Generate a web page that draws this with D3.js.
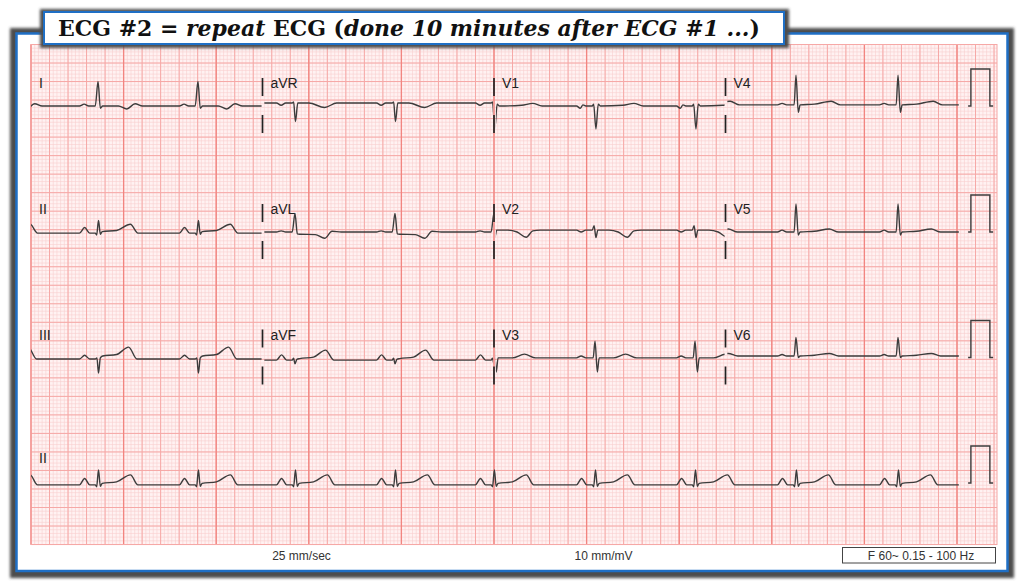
<!DOCTYPE html>
<html>
<head>
<meta charset="utf-8">
<script src="https://cdn.jsdelivr.net/npm/d3@7"></script>
<style>
  body { margin: 0; background: #fff; }
  svg { display: block; }
</style>
</head>
<body>
<script>
// Page size
var svgWidth = 1024;
var svgHeight = 583;

// R-peak times in seconds (read from the rhythm strip)
var beatTimes = [-0.36, 0.724, 1.803, 2.851, 3.931, 4.999, 6.091, 7.171, 8.261, 9.363];

// 12-lead layout, 3 rows x 4 columns, 2.5 s per column, then a rhythm strip
var leadRows = [
  ["I", "aVR", "V1", "V4"],
  ["II", "aVL", "V2", "V5"],
  ["III", "aVF", "V3", "V6"]
];
var rhythmLead = "II";

// beat shapes per lead: [seconds from R peak, mV]
var shapeI   = [[-0.2,0],[-0.15,0.05],[-0.1,0],[-0.03,0],[0,0.66],[0.025,-0.06],[0.05,0],[0.22,0],[0.31,-0.08],[0.4,0.06],[0.48,0]];
var shapeII  = [[-0.2,0],[-0.145,0.15],[-0.09,0],[-0.03,0],[-0.015,-0.05],[0.005,0.34],[0.025,-0.03],[0.045,0.04],[0.2,0.07],[0.35,0.24],[0.43,0]];
var shapeIII = [[-0.2,0],[-0.145,0.1],[-0.09,0],[-0.03,0],[-0.012,0.03],[0.005,-0.38],[0.025,0.03],[0.05,0.08],[0.2,0.12],[0.33,0.32],[0.42,0]];
var shapeAVR = [[-0.2,0],[-0.15,-0.06],[-0.1,0],[-0.03,0],[-0.015,0.03],[0.005,-0.5],[0.03,0],[0.15,0],[0.32,-0.12],[0.45,0]];
var shapeAVL = [[-0.2,0],[-0.15,0.03],[-0.1,0],[-0.03,0],[0,0.5],[0.025,-0.05],[0.05,-0.06],[0.22,-0.07],[0.32,-0.17],[0.4,0.02],[0.5,0]];
var shapeAVF = [[-0.2,0],[-0.145,0.14],[-0.09,0],[-0.03,0],[-0.015,0.05],[0,-0.1],[0.02,0.02],[0.05,0.04],[0.2,0.08],[0.33,0.27],[0.42,0]];
var shapeV1  = [[-0.2,0],[-0.16,-0.06],[-0.13,0.03],[-0.1,0],[-0.03,0],[-0.015,0.05],[0.01,-0.62],[0.035,0.05],[0.06,0],[0.3,0.02],[0.42,0.07],[0.52,0]];
var shapeV2  = [[-0.2,0],[-0.15,-0.05],[-0.1,0],[-0.03,0],[-0.01,0.12],[0.01,-0.2],[0.03,0],[0.15,0],[0.25,-0.05],[0.35,-0.19],[0.42,-0.02],[0.5,0]];
var shapeV3  = [[-0.2,0],[-0.15,0.05],[-0.1,0],[-0.02,0],[0,0.45],[0.025,-0.38],[0.045,0],[0.2,0],[0.33,0.1],[0.45,0]];
var shapeV4  = [[-0.2,0],[-0.15,0.04],[-0.1,0],[-0.02,0],[0,0.8],[0.025,-0.2],[0.045,0],[0.2,0.02],[0.38,0.1],[0.48,0]];
var shapeV5  = [[-0.2,0],[-0.15,0.05],[-0.1,0],[-0.02,0],[0,0.76],[0.025,-0.08],[0.045,0],[0.2,0.02],[0.36,0.08],[0.46,0]];
var shapeV6  = [[-0.2,0],[-0.15,0.04],[-0.1,0],[-0.02,0],[0,0.5],[0.025,-0.04],[0.045,0],[0.2,0.02],[0.36,0.07],[0.46,0]];
var shapeRhythm = [[-0.2,0],[-0.145,0.17],[-0.09,0],[-0.03,0],[-0.015,-0.05],[0.005,0.4],[0.025,-0.04],[0.045,0.04],[0.2,0.08],[0.35,0.27],[0.43,0]];

// baseline offset of each lead from its row centre (mV)
var baseOffsets = {I: 0, aVR: 0.08, V1: 0, V4: 0.03, II: -0.03, aVL: 0, V2: 0.05, V5: 0,
                   III: -0.04, aVF: -0.07, V3: -0.01, V6: 0.04, rhythm: -0.05};

// calibration pulse: [seconds, mV]
var calPulse = [[10.12,0],[10.15,0],[10.15,1],[10.355,1],[10.355,0],[10.39,0]];

// footer texts
var footerTexts = ["25 mm/sec", "10 mm/mV"];
var filterText = "F 60~ 0.15 - 100 Hz";

var shapes = {I: shapeI, II: shapeII, III: shapeIII, aVR: shapeAVR, aVL: shapeAVL, aVF: shapeAVF,
              V1: shapeV1, V2: shapeV2, V3: shapeV3, V4: shapeV4, V5: shapeV5, V6: shapeV6};

// Grid geometry: 1 mm = 3.704 px, 25 mm/s, 10 mm/mV
var gridLeft = 31, gridRight = 997, gridTop = 44.5, gridBottom = 544.5;
var pxPerMm = 3.704;

var xMm = d3.scaleLinear().domain([0, 1]).range([gridLeft, gridLeft + pxPerMm]);
var yMm = d3.scaleLinear().domain([0, 1]).range([gridTop, gridTop + pxPerMm]);
var xTime = d3.scaleLinear().domain([0, 1]).range([gridLeft, gridLeft + 25 * pxPerMm]);

// row centres (baseline of each row)
var rowCenters = [106, 232, 357.5, 483];
function yScaleFor(row) {
  return d3.scaleLinear().domain([0, 1]).range([rowCenters[row], rowCenters[row] - 10 * pxPerMm]);
}

var svg = d3.select("body")
  .append("svg")
  .attr("width", svgWidth)
  .attr("height", svgHeight);

var defs = svg.append("defs");
defs.append("filter").attr("id", "blur")
  .attr("x", "-10%").attr("y", "-10%").attr("width", "120%").attr("height", "120%")
  .append("feGaussianBlur").attr("stdDeviation", 1.6);

// Outer frame with shadow
svg.append("rect")
  .attr("x", 10).attr("y", 28).attr("width", 1004).attr("height", 550)
  .attr("fill", "#4d4d4d").attr("filter", "url(#blur)");
svg.append("rect")
  .attr("x", 16.5).attr("y", 33.5).attr("width", 991).attr("height", 537.5)
  .attr("fill", "#fff").attr("stroke", "#1f6fc5").attr("stroke-width", 2.5);

// Grid paper
var grid = svg.append("g");
grid.append("rect")
  .attr("x", gridLeft).attr("y", gridTop)
  .attr("width", gridRight - gridLeft).attr("height", gridBottom - gridTop)
  .attr("fill", "#fff2f2");

var nX = Math.floor((gridRight - gridLeft) / pxPerMm);
var nY = Math.round((gridBottom - gridTop) / pxPerMm);

function gridLines(step, color, width) {
  grid.append("g").selectAll("line.v")
    .data(d3.range(0, nX + 1, step))
    .enter().append("line")
    .attr("x1", d => xMm(d)).attr("x2", d => xMm(d))
    .attr("y1", gridTop).attr("y2", gridBottom)
    .attr("stroke", color).attr("stroke-width", width);
  grid.append("g").selectAll("line.h")
    .data(d3.range(0, nY + 1, step))
    .enter().append("line")
    .attr("y1", d => yMm(d)).attr("y2", d => yMm(d))
    .attr("x1", gridLeft).attr("x2", gridRight)
    .attr("stroke", color).attr("stroke-width", width);
}
gridLines(1, "#f9cfcf", 0.6);
gridLines(5, "#f6a8a6", 1);
// darker 1-second lines (vertical only)
grid.append("g").selectAll("line")
  .data(d3.range(0, nX + 1, 25))
  .enter().append("line")
  .attr("x1", d => xMm(d)).attr("x2", d => xMm(d))
  .attr("y1", gridTop).attr("y2", gridBottom)
  .attr("stroke", "#f28580").attr("stroke-width", 1.3);
grid.append("rect")
  .attr("x", gridLeft).attr("y", gridTop)
  .attr("width", gridRight - gridLeft).attr("height", gridBottom - gridTop)
  .attr("fill", "none").attr("stroke", "#f6a8a6").attr("stroke-width", 1);

// Build a lead trace from beat shape
function buildSeries(shape, off) {
  var pts = [[-0.5, off]];
  beatTimes.forEach(function (b) {
    shape.forEach(function (p) { pts.push([b + p[0], p[1] + off]); });
  });
  pts.push([10.6, off]);
  return pts;
}

var traces = svg.append("g");
var colSpan = 2.5;

function drawLead(name, row, t0, t1, shape, off) {
  var y = yScaleFor(row);
  var clipId = "clip-" + row + "-" + name + "-" + Math.round(t0 * 10);
  defs.append("clipPath").attr("id", clipId)
    .append("rect")
    .attr("x", xTime(t0)).attr("y", 0)
    .attr("width", xTime(t1) - xTime(t0)).attr("height", svgHeight);
  var line = d3.line()
    .x(d => xTime(d[0]))
    .y(d => y(d[1]))
    .curve(d3.curveMonotoneX);
  traces.append("path")
    .attr("d", line(buildSeries(shape, off)))
    .attr("clip-path", "url(#" + clipId + ")")
    .attr("fill", "none")
    .attr("stroke", "#3c3c3c")
    .attr("stroke-width", 1.4)
    .attr("stroke-linejoin", "round");
}

leadRows.forEach(function (leads, row) {
  leads.forEach(function (name, col) {
    var t0 = col * colSpan + (col === 0 ? 0 : 0.02);
    var t1 = (col + 1) * colSpan - 0.01;
    if (col === 3) t1 = 10.02;
    drawLead(name, row, t0, t1, shapes[name], baseOffsets[name]);
  });
});
drawLead(rhythmLead, 3, 0, 10.02, shapeRhythm, baseOffsets.rhythm);

// calibration pulses
rowCenters.forEach(function (c, row) {
  var y = yScaleFor(row);
  traces.append("path")
    .attr("d", d3.line().x(d => xTime(d[0])).y(d => y(d[1]))(calPulse))
    .attr("fill", "none").attr("stroke", "#3c3c3c").attr("stroke-width", 1.4);
});

// lead-change markers and labels
var marks = svg.append("g");
leadRows.forEach(function (leads, row) {
  var yc = rowCenters[row];
  leads.forEach(function (name, col) {
    var x = xTime(col * colSpan);
    if (col > 0) {
      marks.append("line").attr("x1", x).attr("x2", x).attr("y1", yc - 28).attr("y2", yc - 10)
        .attr("stroke", "#222").attr("stroke-width", 1.7);
      marks.append("line").attr("x1", x).attr("x2", x).attr("y1", yc + 9).attr("y2", yc + 27)
        .attr("stroke", "#222").attr("stroke-width", 1.7);
    }
    marks.append("text")
      .attr("x", x + 8).attr("y", yc - 18)
      .attr("font-family", "Liberation Sans, Arial, sans-serif")
      .attr("font-size", "14px").attr("fill", "#222")
      .text(name);
  });
});
marks.append("text")
  .attr("x", xTime(0) + 8).attr("y", rowCenters[3] - 20)
  .attr("font-family", "Liberation Sans, Arial, sans-serif")
  .attr("font-size", "14px").attr("fill", "#222")
  .text(rhythmLead);

// footer
svg.append("text").attr("x", 301.5).attr("y", 559.5).attr("text-anchor", "middle")
  .attr("font-family", "Liberation Sans, Arial, sans-serif").attr("font-size", "12px")
  .attr("fill", "#333").text(footerTexts[0]);
svg.append("text").attr("x", 603.5).attr("y", 559.5).attr("text-anchor", "middle")
  .attr("font-family", "Liberation Sans, Arial, sans-serif").attr("font-size", "12px")
  .attr("fill", "#333").text(footerTexts[1]);
svg.append("rect").attr("x", 842.5).attr("y", 547.5).attr("width", 153).attr("height", 15.5)
  .attr("fill", "#fff").attr("stroke", "#444").attr("stroke-width", 1);
svg.append("text").attr("x", 921).attr("y", 559.5).attr("text-anchor", "middle")
  .attr("font-family", "Liberation Sans, Arial, sans-serif").attr("font-size", "12px")
  .attr("fill", "#333").text(filterText);

// Title box
svg.append("rect")
  .attr("x", 40).attr("y", 9).attr("width", 749).attr("height", 39)
  .attr("fill", "#4d4d4d").attr("filter", "url(#blur)");
svg.append("rect")
  .attr("x", 44).attr("y", 12).attr("width", 740).attr("height", 32)
  .attr("fill", "#fff").attr("stroke", "#1f6fc5").attr("stroke-width", 2);

var title = svg.append("text")
  .attr("x", 58).attr("y", 36)
  .attr("font-family", "DejaVu Serif, serif")
  .attr("font-weight", "bold")
  .attr("font-size", "21px")
  .attr("fill", "#111")
  .style("white-space", "pre");
var titleParts = [["ECG #2 = ", "normal"], ["repeat", "italic"], [" ECG (", "normal"],
                  ["done 10 minutes after ECG #1 ...", "italic"], [")", "normal"]];
titleParts.forEach(function (p) {
  title.append("tspan").attr("font-style", p[1]).text(p[0]);
});
var len = title.node().getComputedTextLength();
title.attr("font-size", (21 * 702 / len).toFixed(2) + "px");
</script>
</body>
</html>
